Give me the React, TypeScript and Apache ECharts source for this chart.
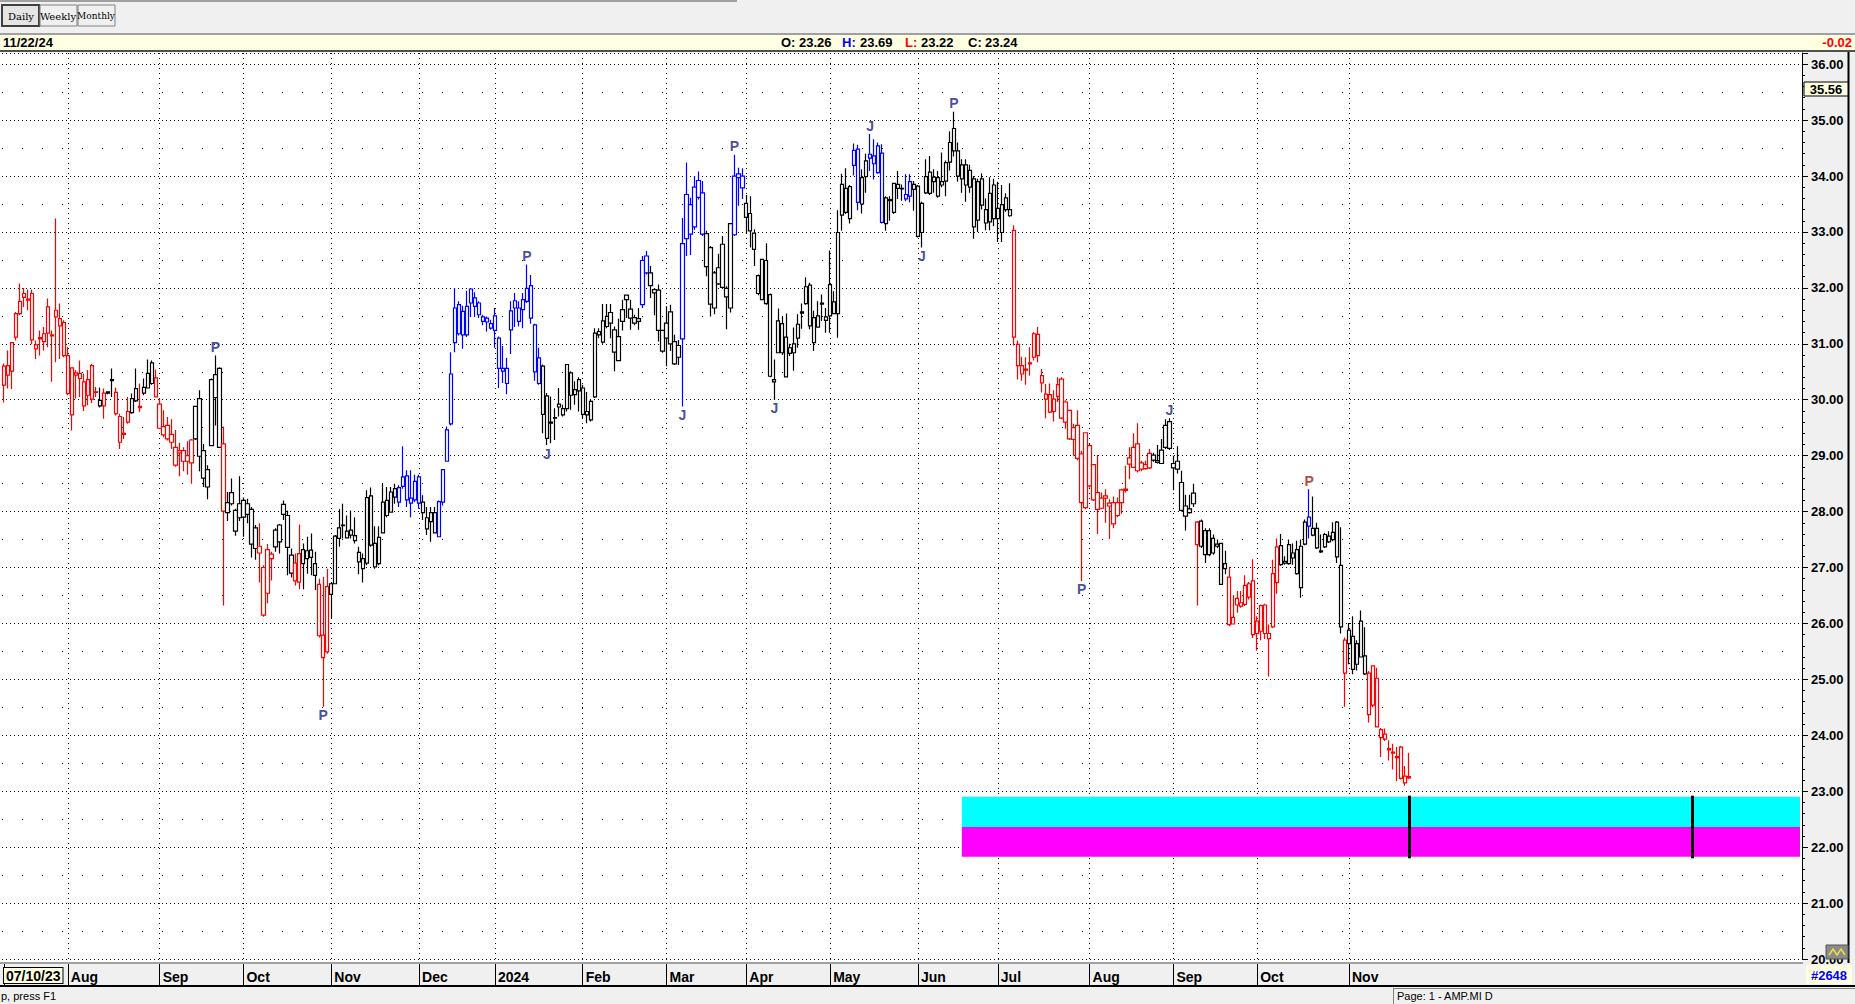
import React, { useEffect, useRef } from 'react';
import * as echarts from 'echarts';

type Bar = [number, number, number, number, 'R' | 'B' | 'K']; // open, high, low, close, trend group

const jul23: Bar[] = [
  [30.26, 30.65, 29.95, 30.60, 'R'], [30.61, 30.88, 30.20, 30.44, 'R'], [30.51, 31.02, 30.19, 31.02, 'R'],
  [31.12, 31.57, 31.06, 31.54, 'R'], [31.54, 32.08, 31.51, 31.76, 'R'], [31.83, 32.00, 31.66, 31.90, 'R'],
  [31.80, 31.97, 31.60, 31.78, 'R'], [31.90, 31.97, 30.99, 31.07, 'R'], [30.91, 31.06, 30.73, 30.98, 'R'],
  [31.09, 31.24, 30.79, 31.11, 'R'], [31.04, 31.30, 30.88, 31.18, 'R'], [31.19, 31.81, 30.94, 31.66, 'R'],
  [31.16, 31.24, 30.32, 31.14, 'R'], [31.48, 33.24, 30.67, 31.60, 'R'], [31.32, 31.72, 30.73, 31.45, 'R'],
  [31.38, 31.42, 30.76, 30.79, 'R'],
];
const aug23: Bar[] = [
  [30.79, 30.94, 30.08, 30.11, 'R'], [29.73, 30.57, 29.45, 30.57, 'R'], [30.44, 30.53, 30.02, 30.48, 'R'],
  [30.47, 30.70, 30.05, 30.38, 'R'], [30.32, 30.47, 29.80, 29.89, 'R'], [30.08, 30.53, 29.90, 30.36, 'R'],
  [30.61, 30.64, 29.94, 30.01, 'R'], [30.13, 30.23, 30.05, 30.14, 'R'], [29.99, 30.22, 29.86, 29.89, 'K'],
  [29.89, 30.20, 29.66, 30.12, 'R'], [30.14, 30.15, 30.10, 30.12, 'K'], [30.34, 30.56, 30.05, 30.36, 'K'],
  [30.13, 30.22, 29.72, 29.75, 'R'], [29.70, 29.75, 29.12, 29.24, 'R'], [29.38, 29.69, 29.30, 29.40, 'R'],
  [29.60, 30.05, 29.57, 29.79, 'R'], [29.77, 30.11, 29.75, 30.02, 'K'], [30.20, 30.56, 29.96, 29.98, 'K'],
  [29.86, 30.29, 29.78, 29.88, 'R'], [30.12, 30.38, 30.08, 30.22, 'K'], [30.21, 30.72, 30.20, 30.47, 'K'],
  [30.66, 30.70, 30.27, 30.29, 'K'], [30.39, 30.54, 30.04, 30.05, 'R'],
];
const sep23: Bar[] = [
  [29.92, 30.02, 29.48, 29.49, 'R'], [29.52, 29.81, 29.33, 29.37, 'R'], [29.30, 29.69, 29.27, 29.54, 'R'],
  [29.38, 29.65, 29.12, 29.24, 'R'], [29.15, 29.46, 28.80, 28.83, 'R'], [29.09, 29.23, 28.63, 29.05, 'R'],
  [29.09, 29.15, 28.72, 28.90, 'R'], [28.90, 29.26, 28.66, 29.00, 'R'], [28.87, 29.30, 28.50, 29.28, 'R'],
  [29.30, 29.89, 29.28, 29.88, 'K'], [30.02, 30.17, 28.72, 28.99, 'K'], [29.09, 29.21, 28.44, 28.60, 'K'],
  [28.44, 28.83, 28.22, 28.75, 'K'], [29.18, 30.38, 29.17, 30.36, 'K'], [30.04, 30.79, 29.54, 30.45, 'K'],
  [30.56, 30.58, 29.14, 29.15, 'K'], [29.21, 29.52, 26.32, 28.01, 'R'], [27.98, 28.35, 27.83, 28.16, 'K'],
  [28.34, 28.59, 28.11, 28.14, 'K'], [28.02, 28.05, 27.57, 27.65, 'K'], [27.89, 28.63, 27.83, 28.14, 'K'],
];
const oct23: Bar[] = [
  [28.20, 28.25, 27.55, 27.90, 'K'], [27.95, 28.23, 27.79, 28.14, 'K'], [28.04, 28.08, 27.18, 27.42, 'K'],
  [27.71, 27.76, 27.14, 27.34, 'K'], [27.38, 27.79, 26.73, 27.26, 'R'], [27.00, 27.04, 26.12, 26.15, 'R'],
  [26.54, 27.42, 26.36, 27.32, 'R'], [27.24, 27.28, 26.77, 27.16, 'R'], [27.37, 27.70, 27.28, 27.67, 'K'],
  [27.46, 27.78, 27.25, 27.76, 'K'], [27.95, 28.20, 27.85, 28.13, 'K'], [27.93, 28.02, 26.86, 27.36, 'K'],
  [27.22, 27.34, 26.82, 26.90, 'K'], [26.76, 27.25, 26.68, 27.08, 'R'], [26.74, 27.77, 26.61, 27.25, 'R'],
  [27.32, 27.43, 26.61, 27.07, 'K'], [27.16, 27.55, 26.89, 27.30, 'K'], [27.18, 27.61, 26.86, 27.31, 'K'],
  [27.07, 27.28, 26.60, 26.86, 'K'], [26.70, 26.80, 25.75, 25.78, 'R'], [25.79, 26.83, 24.51, 25.39, 'R'],
  [25.49, 26.98, 25.46, 26.66, 'R'],
];
const nov23: Bar[] = [
  [26.71, 26.74, 26.09, 26.52, 'K'], [26.71, 27.58, 26.70, 27.56, 'K'], [27.52, 28.04, 27.37, 27.71, 'K'],
  [27.76, 28.14, 27.52, 27.75, 'K'], [27.53, 27.93, 27.52, 27.65, 'K'], [27.67, 28.02, 27.52, 27.58, 'K'],
  [27.48, 27.90, 27.43, 27.57, 'K'], [27.27, 27.37, 26.88, 27.10, 'K'], [27.16, 27.25, 26.73, 26.98, 'K'],
  [27.08, 28.38, 27.04, 28.25, 'K'], [28.28, 28.43, 27.37, 27.40, 'K'], [27.43, 27.74, 26.98, 27.01, 'K'],
  [27.07, 27.74, 27.04, 27.54, 'K'], [27.62, 28.50, 27.61, 28.17, 'K'], [28.20, 28.44, 27.90, 27.93, 'K'],
  [27.99, 28.44, 27.98, 28.35, 'K'], [28.41, 28.50, 28.14, 28.26, 'K'], [28.17, 28.47, 28.08, 28.43, 'B'],
  [28.45, 29.17, 28.41, 28.62, 'B'], [28.64, 28.74, 28.08, 28.21, 'B'], [28.15, 28.74, 27.90, 28.24, 'B'],
  [28.21, 28.66, 28.17, 28.54, 'B'],
];
const dec23: Bar[] = [
  [28.62, 28.66, 28.05, 28.15, 'B'], [28.17, 28.29, 27.85, 27.98, 'K'], [27.89, 28.08, 27.58, 27.69, 'K'],
  [27.82, 28.08, 27.46, 27.98, 'K'], [27.98, 28.08, 27.61, 27.62, 'K'], [27.55, 28.20, 27.54, 28.18, 'B'],
  [28.17, 28.76, 28.11, 28.75, 'B'], [28.90, 29.52, 28.89, 29.46, 'B'], [29.57, 30.85, 29.54, 30.46, 'B'],
  [31.02, 32.00, 30.85, 31.64, 'B'], [31.18, 31.76, 31.15, 31.70, 'B'], [31.58, 31.68, 30.91, 31.16, 'B'],
  [31.16, 31.95, 31.12, 31.67, 'B'], [31.73, 32.00, 31.48, 31.98, 'B'], [31.67, 31.92, 31.48, 31.82, 'B'],
  [31.73, 31.76, 31.46, 31.52, 'B'], [31.48, 31.52, 31.33, 31.40, 'B'], [31.46, 31.49, 31.22, 31.39, 'B'],
  [31.28, 31.43, 31.25, 31.36, 'B'],
];
const jan24: Bar[] = [
  [31.50, 31.64, 30.93, 31.24, 'B'], [31.10, 31.13, 30.21, 30.56, 'B'], [30.56, 30.96, 30.30, 30.51, 'B'],
  [30.29, 30.75, 30.10, 30.56, 'B'], [31.25, 31.76, 30.82, 31.59, 'B'], [31.77, 31.91, 31.30, 31.64, 'B'],
  [31.64, 31.76, 31.31, 31.40, 'B'], [31.79, 31.91, 31.28, 31.61, 'B'], [31.76, 32.42, 31.73, 31.99, 'B'],
  [32.04, 32.23, 31.36, 31.46, 'B'], [31.34, 31.36, 30.34, 30.50, 'B'], [30.29, 30.93, 30.27, 30.75, 'B'],
  [30.60, 30.63, 29.40, 29.74, 'K'], [30.07, 30.12, 29.19, 29.31, 'K'], [29.60, 30.06, 29.22, 29.58, 'K'],
  [29.67, 29.85, 29.28, 29.68, 'K'], [29.92, 30.21, 29.70, 29.87, 'K'], [29.73, 29.91, 29.70, 29.84, 'K'],
  [29.84, 30.64, 29.79, 30.63, 'K'], [30.48, 30.51, 29.82, 30.08, 'K'], [30.18, 30.33, 29.91, 30.09, 'K'],
  [30.16, 30.40, 29.79, 30.36, 'K'],
];
const feb24: Bar[] = [
  [30.21, 30.27, 29.67, 29.74, 'K'], [29.79, 30.14, 29.58, 29.73, 'K'], [29.64, 30.00, 29.61, 29.97, 'K'],
  [30.05, 31.28, 30.03, 31.19, 'K'], [31.16, 31.28, 31.10, 31.22, 'K'], [31.03, 31.71, 31.00, 31.41, 'K'],
  [31.31, 31.71, 31.28, 31.49, 'K'], [31.56, 31.71, 31.10, 31.37, 'K'], [31.25, 31.31, 30.51, 30.85, 'K'],
  [30.70, 31.45, 30.69, 31.13, 'K'], [31.40, 31.79, 31.24, 31.61, 'K'], [31.79, 31.88, 31.46, 31.87, 'K'],
  [31.62, 31.79, 31.25, 31.46, 'K'], [31.37, 31.52, 31.33, 31.47, 'K'], [31.40, 31.64, 31.25, 31.45, 'K'],
  [31.70, 32.57, 31.64, 32.49, 'B'], [32.57, 32.66, 32.24, 32.27, 'B'], [32.27, 32.39, 31.82, 32.04, 'K'],
  [31.97, 32.00, 31.51, 31.91, 'K'], [31.96, 32.06, 31.04, 31.24, 'K'], [31.24, 31.25, 30.84, 30.87, 'K'],
];
const mar24: Bar[] = [
  [31.10, 31.67, 30.60, 31.37, 'K'], [31.57, 31.70, 30.87, 31.00, 'K'], [31.04, 31.16, 30.62, 30.64, 'K'],
  [30.76, 31.07, 30.62, 30.97, 'K'], [31.09, 33.25, 29.88, 32.79, 'B'], [32.88, 34.24, 32.57, 33.67, 'B'],
  [33.49, 33.61, 32.59, 32.96, 'B'], [33.09, 34.00, 33.04, 33.80, 'B'], [33.92, 34.08, 33.58, 33.62, 'B'],
  [33.70, 33.91, 32.93, 32.96, 'B'], [32.97, 33.02, 32.21, 32.38, 'K'], [32.72, 32.75, 31.49, 31.71, 'K'],
  [31.64, 32.30, 31.53, 32.27, 'K'], [32.07, 32.61, 32.05, 32.36, 'K'], [32.78, 32.93, 32.00, 32.01, 'K'],
  [31.99, 32.03, 31.26, 31.84, 'K'], [31.64, 33.16, 31.56, 33.15, 'K'], [32.95, 34.38, 32.93, 34.00, 'B'],
  [33.97, 34.15, 33.47, 34.04, 'B'], [34.00, 34.14, 33.59, 33.79, 'B'],
];
const apr24: Bar[] = [
  [33.51, 33.66, 32.97, 33.26, 'K'], [33.33, 33.64, 32.72, 33.02, 'K'], [32.98, 33.05, 32.39, 32.69, 'K'],
  [32.22, 32.24, 31.87, 31.90, 'K'], [31.79, 32.52, 31.78, 32.51, 'K'], [32.49, 32.80, 31.70, 31.72, 'K'],
  [31.88, 31.90, 30.40, 30.42, 'K'], [30.32, 30.72, 30.00, 30.36, 'K'], [30.84, 31.63, 30.83, 31.41, 'K'],
  [31.36, 31.48, 30.80, 30.84, 'K'], [30.41, 31.54, 30.40, 31.12, 'K'], [30.93, 31.00, 30.78, 30.83, 'K'],
  [30.84, 31.29, 30.52, 31.00, 'K'], [31.10, 31.53, 30.93, 31.35, 'K'], [31.55, 31.72, 31.27, 31.57, 'K'],
  [31.72, 32.19, 31.70, 32.02, 'K'], [32.05, 32.09, 31.26, 31.32, 'K'], [31.47, 31.59, 30.87, 31.02, 'K'],
  [31.30, 31.76, 31.29, 31.50, 'K'], [31.73, 31.88, 31.41, 31.71, 'K'], [31.48, 31.64, 31.20, 31.42, 'K'],
];
const may24: Bar[] = [
  [32.06, 32.67, 31.20, 31.50, 'K'], [31.75, 31.94, 31.53, 31.54, 'K'], [31.54, 33.39, 31.11, 32.99, 'K'],
  [33.30, 34.04, 33.02, 33.85, 'K'], [33.78, 34.14, 33.32, 33.35, 'K'], [33.24, 33.84, 33.15, 33.81, 'K'],
  [34.19, 34.58, 34.01, 34.46, 'B'], [34.48, 34.56, 33.39, 33.53, 'B'], [33.50, 34.12, 33.33, 33.97, 'K'],
  [33.99, 34.40, 33.70, 34.27, 'K'], [34.32, 34.75, 34.09, 34.39, 'B'], [34.22, 34.66, 33.94, 34.36, 'B'],
  [34.06, 34.60, 34.04, 34.54, 'B'], [34.41, 34.57, 33.15, 33.17, 'B'], [33.15, 33.64, 33.02, 33.61, 'K'],
  [33.56, 33.64, 33.20, 33.58, 'K'], [33.35, 33.88, 33.32, 33.87, 'K'], [33.85, 34.09, 33.59, 33.78, 'K'],
  [33.78, 33.85, 33.56, 33.77, 'K'], [33.59, 34.03, 33.55, 33.67, 'B'], [33.64, 34.03, 33.53, 33.90, 'B'],
  [33.76, 33.91, 33.38, 33.85, 'K'],
];
const jun24: Bar[] = [
  [33.82, 33.84, 32.90, 32.92, 'K'], [32.99, 33.54, 32.72, 33.51, 'K'], [33.70, 34.30, 33.68, 33.99, 'K'],
  [34.07, 34.36, 33.66, 33.69, 'K'], [33.90, 34.12, 33.70, 33.98, 'K'], [33.97, 34.09, 33.61, 33.64, 'K'],
  [33.90, 34.42, 33.80, 33.84, 'K'], [33.91, 34.28, 33.64, 34.24, 'K'], [34.25, 34.80, 34.10, 34.60, 'K'],
  [34.85, 35.15, 34.35, 34.45, 'K'], [34.45, 34.60, 33.90, 34.00, 'K'], [33.95, 34.30, 33.70, 34.20, 'K'],
  [34.20, 34.30, 33.54, 33.84, 'K'], [34.10, 34.20, 33.70, 33.80, 'K'], [33.95, 34.00, 32.88, 33.09, 'K'],
  [33.21, 33.95, 33.00, 33.90, 'K'], [33.95, 34.05, 33.40, 33.48, 'K'], [33.40, 33.60, 33.03, 33.16, 'K'],
  [33.18, 33.98, 33.03, 33.69, 'K'], [33.84, 33.95, 33.10, 33.24, 'K'],
];
const jul24: Bar[] = [
  [33.42, 33.90, 32.82, 33.24, 'K'], [32.99, 33.84, 32.82, 33.49, 'K'], [33.61, 33.69, 33.36, 33.40, 'K'],
  [33.40, 33.87, 33.27, 33.29, 'K'], [33.03, 33.12, 30.97, 31.12, 'R'], [30.99, 31.06, 30.36, 30.61, 'R'],
  [30.61, 30.77, 30.34, 30.46, 'R'], [30.55, 30.76, 30.27, 30.53, 'R'], [30.64, 30.94, 30.43, 30.66, 'R'],
  [30.76, 31.21, 30.70, 31.18, 'R'], [31.17, 31.30, 30.67, 30.79, 'R'], [30.30, 30.55, 30.13, 30.43, 'R'],
  [30.10, 30.28, 29.67, 30.01, 'R'], [30.09, 30.29, 29.76, 29.78, 'R'], [29.79, 30.17, 29.61, 30.01, 'R'],
  [30.06, 30.40, 29.96, 30.27, 'R'], [30.37, 30.40, 29.65, 29.67, 'R'], [29.60, 29.99, 29.48, 29.96, 'R'],
  [29.81, 29.82, 29.28, 29.30, 'R'], [29.29, 29.57, 29.00, 29.50, 'R'], [29.54, 29.81, 28.92, 28.95, 'R'],
  [29.03, 29.09, 26.76, 28.16, 'R'], [28.07, 29.42, 28.04, 29.41, 'R'],
];
const aug24: Bar[] = [
  [29.18, 29.21, 28.43, 28.46, 'R'], [28.21, 28.85, 28.19, 28.84, 'R'], [28.34, 29.01, 27.60, 28.04, 'R'],
  [28.06, 28.34, 28.04, 28.24, 'R'], [28.24, 28.40, 27.80, 28.28, 'R'], [28.10, 28.22, 27.51, 28.15, 'R'],
  [28.16, 28.27, 27.70, 27.78, 'R'], [27.93, 28.25, 27.90, 28.16, 'R'], [28.16, 28.41, 27.96, 28.39, 'R'],
  [28.38, 28.82, 28.34, 28.40, 'R'], [28.96, 29.15, 28.58, 28.85, 'R'], [28.79, 29.40, 28.78, 29.15, 'R'],
  [29.21, 29.58, 28.70, 28.73, 'R'], [28.87, 28.91, 28.72, 28.76, 'R'], [28.84, 28.91, 28.75, 28.77, 'R'],
  [28.78, 29.12, 28.76, 29.04, 'R'], [29.01, 29.05, 28.89, 28.92, 'K'], [28.88, 29.19, 28.86, 28.91, 'K'],
  [28.86, 29.30, 28.85, 29.10, 'K'], [29.15, 29.65, 29.12, 29.54, 'K'], [29.61, 29.67, 29.10, 29.13, 'K'],
];
const sep24: Bar[] = [
  [28.78, 29.00, 28.38, 28.86, 'K'], [28.76, 29.17, 28.68, 28.90, 'K'], [28.52, 28.73, 28.00, 28.02, 'K'],
  [27.92, 28.30, 27.66, 28.10, 'K'], [28.05, 28.30, 27.96, 27.98, 'K'], [28.14, 28.50, 28.08, 28.33, 'K'],
  [27.41, 27.83, 26.32, 27.81, 'R'], [27.83, 27.86, 27.35, 27.38, 'K'], [27.66, 27.70, 27.08, 27.23, 'K'],
  [27.23, 27.70, 27.20, 27.66, 'K'], [27.52, 27.59, 27.23, 27.26, 'K'], [27.42, 27.50, 27.35, 27.38, 'K'],
  [27.43, 27.44, 26.69, 26.70, 'K'], [27.07, 27.30, 26.88, 26.98, 'K'], [26.83, 27.01, 25.95, 25.98, 'R'],
  [25.99, 26.51, 25.98, 26.11, 'R'], [26.33, 26.58, 26.19, 26.45, 'R'], [26.31, 26.58, 26.28, 26.37, 'R'],
  [26.68, 26.86, 26.31, 26.34, 'R'], [26.47, 26.74, 26.43, 26.71, 'R'], [26.76, 27.15, 25.74, 25.80, 'R'],
];
const oct24: Bar[] = [
  [26.04, 26.13, 25.51, 25.82, 'R'], [25.86, 26.34, 25.70, 26.32, 'R'], [26.33, 26.35, 25.72, 25.82, 'R'],
  [25.82, 25.98, 25.05, 25.73, 'R'], [25.94, 27.14, 25.92, 26.89, 'R'], [26.73, 27.52, 26.53, 27.37, 'R'],
  [27.39, 27.60, 27.03, 27.05, 'K'], [27.08, 27.20, 27.05, 27.11, 'K'], [27.07, 27.50, 27.05, 27.41, 'K'],
  [27.26, 27.43, 27.05, 27.17, 'K'], [27.32, 27.48, 26.87, 26.89, 'K'], [26.64, 27.50, 26.46, 27.38, 'K'],
  [27.42, 27.86, 27.40, 27.81, 'K'], [27.90, 28.40, 27.52, 27.74, 'B'], [27.70, 28.27, 27.56, 27.58, 'K'],
  [27.70, 27.80, 27.33, 27.35, 'K'], [27.28, 27.59, 27.26, 27.30, 'K'], [27.37, 27.62, 27.35, 27.59, 'K'],
  [27.56, 27.65, 27.44, 27.46, 'K'], [27.50, 27.81, 27.47, 27.63, 'K'], [27.81, 27.83, 27.08, 27.19, 'K'],
  [27.04, 27.72, 25.82, 25.94, 'K'], [25.11, 25.75, 24.51, 25.70, 'R'],
];
const nov24: Bar[] = [
  [25.64, 26.01, 25.27, 25.88, 'K'], [25.77, 26.13, 25.09, 25.18, 'K'], [25.27, 25.70, 25.16, 25.64, 'K'],
  [26.04, 26.23, 25.40, 25.40, 'K'], [25.42, 25.93, 25.08, 25.10, 'K'], [25.11, 25.15, 24.23, 24.37, 'R'],
  [24.54, 25.24, 24.50, 25.24, 'R'], [25.02, 25.21, 24.15, 24.15, 'R'], [24.10, 24.13, 23.61, 23.96, 'R'],
  [23.93, 24.12, 23.90, 24.02, 'R'], [23.74, 23.91, 23.55, 23.76, 'R'], [23.68, 23.85, 23.39, 23.70, 'R'],
  [23.60, 23.79, 23.18, 23.62, 'R'], [23.79, 23.81, 23.21, 23.23, 'R'], [23.15, 23.45, 23.10, 23.27, 'R'],
  [23.26, 23.69, 23.22, 23.24, 'R'],
];

const monthKeys = ['jul23', 'aug23', 'sep23', 'oct23', 'nov23', 'dec23', 'jan24', 'feb24', 'mar24', 'apr24', 'may24', 'jun24', 'jul24', 'aug24', 'sep24', 'oct24', 'nov24'];
const monthLabels = ['07/10/23', 'Aug', 'Sep', 'Oct', 'Nov', 'Dec', '2024', 'Feb', 'Mar', 'Apr', 'May', 'Jun', 'Jul', 'Aug', 'Sep', 'Oct', 'Nov'];
const monthBars = [jul23, aug23, sep23, oct23, nov23, dec23, jan24, feb24, mar24, apr24, may24, jun24, jul24, aug24, sep24, oct24, nov24];
const futureSlots = 98;

// [month, day-in-month, text, side, tone]
const markers: [string, number, string, 'top' | 'bottom', 'n' | 'r'][] = [
  ['sep23', 14, 'P', 'top', 'n'], ['oct23', 20, 'P', 'bottom', 'n'], ['jan24', 8, 'P', 'top', 'n'],
  ['jan24', 13, 'J', 'bottom', 'n'], ['mar24', 4, 'J', 'bottom', 'n'], ['mar24', 17, 'P', 'top', 'n'],
  ['apr24', 7, 'J', 'bottom', 'n'], ['may24', 10, 'J', 'top', 'n'], ['jun24', 1, 'J', 'bottom', 'n'],
  ['jun24', 9, 'P', 'top', 'n'], ['jul24', 21, 'P', 'bottom', 'n'], ['aug24', 20, 'J', 'top', 'n'],
  ['oct24', 13, 'P', 'top', 'r'],
];

// target zone (price bands) and its markers
const zoneStartMonth = 'jun24';
const zoneStartDay = 12;
const zoneTop = 22.9;
const zoneMid = 22.36;
const zoneBottom = 21.83;
const zoneLineOffsets = [0, 71]; // slots after last bar
const zoneLineTop = 22.92;
const zoneLineBottom = 21.8;

const header = { date: '11/22/24', o: '23.26', h: '23.69', l: '23.22', c: '23.24', chg: '-0.02', cursor: '35.56' };

const FONT = '"Liberation Sans", Arial, sans-serif';
const NARROW = '"Liberation Sans Narrow", "Liberation Sans", Arial, sans-serif';
const COLORS: Record<string, string> = { R: '#ff0000', B: '#0000ff', K: '#000000' };

function buildOption() {
  const allBars: Bar[] = [];
  const starts: Record<string, number> = {};
  const labelAt = new Map<number, string>();
  monthBars.forEach((bars, i) => {
    starts[monthKeys[i]] = allBars.length;
    labelAt.set(allBars.length, monthLabels[i]);
    allBars.push(...bars);
  });
  const total = allBars.length + futureSlots;
  const categories = Array.from({ length: total }, (_, i) => String(i));
  const isStart = (idx: number) => labelAt.has(idx);

  const candleData = allBars.map(([o, h, l, c, g]) => {
    const col = COLORS[g];
    return {
      value: [o, c, l, h],
      itemStyle: { color: '#ffffff', color0: col, borderColor: col, borderColor0: col, borderColorDoji: col },
    };
  });

  const markData = markers.map(([m, d, t, side, tone]) => {
    const idx = starts[m] + d;
    const b = allBars[idx];
    const price = side === 'top' ? b[1] : b[2];
    return {
      value: [idx, price],
      label: {
        show: true, formatter: t, position: side, distance: 1,
        color: tone === 'r' ? '#a01818' : '#1c1c86', fontWeight: 'bold', fontSize: 14, fontFamily: FONT,
      },
    };
  });

  const lastIdx = allBars.length - 1;
  const zoneStart = starts[zoneStartMonth] + zoneStartDay - 1;
  const zoneEnd = total - 1;

  const txt = (x: number, y: number, text: string, font: string, fill = '#000', align = 'left') => ({
    type: 'text', x, y, z: 10,
    style: { text, font, fill, textAlign: align, align, textVerticalAlign: 'middle', verticalAlign: 'middle' },
  });

  return {
    animation: false,
    backgroundColor: 'transparent',
    grid: { left: -2, right: 53, top: 53, bottom: 45, containLabel: false },
    xAxis: {
      type: 'category', data: categories, boundaryGap: true, offset: 5,
      axisLine: { show: false },
      axisTick: { show: true, interval: (i: number) => isStart(i), alignWithLabel: true, length: 21, lineStyle: { color: '#000', width: 1 } },
      axisLabel: {
        show: true, interval: (i: number) => isStart(i), align: 'left', margin: 4,
        formatter: (v: string) => {
          const lab = labelAt.get(Number(v)) || '';
          return Number(v) === 0 ? `{f|${lab}}` : `{m|${lab}}`;
        },
        rich: {
          f: { fontFamily: NARROW, fontWeight: 'bold', fontSize: 14, color: '#000', backgroundColor: '#ffffe1', borderColor: '#000', borderWidth: 1, padding: [1, 2, 0, 2] },
          m: { fontFamily: NARROW, fontWeight: 'bold', fontSize: 14, color: '#000', padding: [2, 0, 0, 3] },
        },
      },
      splitLine: { show: true, interval: (i: number) => i > 0 && isStart(i), alignWithLabel: true, lineStyle: { color: '#000', type: [1, 4], width: 1 } },
    },
    yAxis: [
      {
        type: 'value', position: 'right', min: 20, max: 36.2, interval: 1, scale: true,
        axisLine: { show: true, lineStyle: { color: '#000', width: 1 } },
        axisTick: { show: true, length: 6, lineStyle: { color: '#000' } },
        minorTick: { show: true, splitNumber: 5, length: 3, lineStyle: { color: '#000' } },
        axisLabel: {
          margin: 9, color: '#000', fontWeight: 'bold', fontSize: 13, fontFamily: FONT,
          formatter: (v: number) => (Math.abs(v - Math.round(v)) < 1e-6 ? v.toFixed(2) : ''),
        },
        splitLine: { show: true, lineStyle: { color: '#000', type: [1, 3], width: 1 } },
      },
      {
        type: 'value', position: 'right', min: 20, max: 36.2, interval: 0.5,
        axisLine: { show: false }, axisTick: { show: false }, axisLabel: { show: false },
        splitLine: { show: true, lineStyle: { color: '#000', type: [1, 19], width: 1 } },
      },
    ],
    series: [
      {
        type: 'candlestick', data: candleData, barWidth: 3.8, yAxisIndex: 0,
        itemStyle: { borderWidth: 1.2 },
        markArea: {
          silent: true,
          data: [
            [{ xAxis: zoneStart, yAxis: zoneTop, itemStyle: { color: '#00ffff', opacity: 1 } }, { xAxis: zoneEnd, yAxis: zoneMid }],
            [{ xAxis: zoneStart, yAxis: zoneMid, itemStyle: { color: '#ff00ff', opacity: 1 } }, { xAxis: zoneEnd, yAxis: zoneBottom }],
          ],
        },
        markLine: {
          silent: true, symbol: ['none', 'none'], label: { show: false },
          lineStyle: { color: '#000', width: 3, type: 'solid' },
          data: zoneLineOffsets.map((off) => [
            { coord: [lastIdx + off, zoneLineTop] },
            { coord: [lastIdx + off, zoneLineBottom] },
          ]),
        },
      },
      {
        type: 'scatter', data: markData, symbolSize: 1, yAxisIndex: 0,
        itemStyle: { color: 'rgba(0,0,0,0)' }, z: 5,
      },
    ],
    graphic: [
      // toolbar buttons
      { type: 'rect', z: 10, shape: { x: 2, y: 5, width: 37, height: 21 }, style: { fill: '#e4e4e4', stroke: '#404040', lineWidth: 2 } },
      { type: 'rect', z: 10, shape: { x: 40, y: 5, width: 37, height: 21 }, style: { fill: '#f0f0f0', stroke: '#808080', lineWidth: 1 } },
      { type: 'rect', z: 10, shape: { x: 78, y: 5, width: 37, height: 21 }, style: { fill: '#f0f0f0', stroke: '#808080', lineWidth: 1 } },
      txt(21, 16, 'Daily', '10px "DejaVu Serif", serif', '#000', 'center'),
      txt(58, 16, 'Weekly', '10px "DejaVu Serif", serif', '#000', 'center'),
      txt(96, 16, 'Monthly', '9px "DejaVu Serif", serif', '#000', 'center'),
      // header
      txt(3, 42, header.date, `bold 13px ${NARROW}`),
      txt(781, 42, 'O:', `bold 13px ${NARROW}`, '#000'),
      txt(799, 42, header.o, `bold 13px ${NARROW}`, '#000'),
      txt(842, 42, 'H:', `bold 13px ${NARROW}`, '#0000ff'),
      txt(860, 42, header.h, `bold 13px ${NARROW}`, '#000'),
      txt(905, 42, 'L:', `bold 13px ${NARROW}`, '#ff0000'),
      txt(921, 42, header.l, `bold 13px ${NARROW}`, '#000'),
      txt(968, 42, 'C:', `bold 13px ${NARROW}`, '#000'),
      txt(985, 42, header.c, `bold 13px ${NARROW}`, '#000'),
      txt(1852, 42, header.chg, `bold 13px ${NARROW}`, '#ff0000', 'right'),
      // right axis decorations
      { type: 'line', z: 10, shape: { x1: 1848.5, y1: 52, x2: 1848.5, y2: 963 }, style: { stroke: '#000', lineWidth: 2 } },
      { type: 'rect', z: 10, shape: { x: 1804, y: 82, width: 44, height: 14 }, style: { fill: '#ffffe1', stroke: '#000', lineWidth: 1 } },
      txt(1826, 89, header.cursor, `bold 13px ${FONT}`, '#000', 'center'),
      { type: 'rect', z: 10, shape: { x: 1826, y: 945, width: 22, height: 14 }, style: { fill: '#8a8a8a', stroke: '#555', lineWidth: 1 } },
      { type: 'polyline', z: 11, shape: { points: [[1829, 955], [1833, 949], [1837, 955], [1841, 949], [1845, 955]] }, style: { stroke: '#f0e040', lineWidth: 1.5, fill: 'none' } },
      // bottom right ID
      txt(1829, 975, '#2648', `bold 13px ${FONT}`, '#0000ff', 'center'),
      // status bar
      txt(1, 996, 'p, press F1', `11px ${FONT}`),
      txt(1397, 996, 'Page: 1 - AMP.MI D', `11px ${FONT}`),
    ],
  };
}

export default function App() {
  const ref = useRef<HTMLDivElement>(null);
  useEffect(() => {
    if (!ref.current) return;
    const chart = echarts.init(ref.current, null, { renderer: 'svg' });
    chart.setOption(buildOption() as any);
    return () => chart.dispose();
  }, []);
  const abs = (s: React.CSSProperties): React.CSSProperties => ({ position: 'absolute', boxSizing: 'border-box', ...s });
  return (
    <div style={{ position: 'fixed', left: 0, top: 0, width: 1855, height: 1004, background: '#ffffff', overflow: 'hidden' }}>
      <div style={abs({ left: 0, top: 0, width: 1855, height: 33, background: '#f0f0f0' })} />
      <div style={abs({ left: 0, top: 0, width: 737, height: 2, background: '#a0a0a0' })} />
      <div style={abs({ left: 0, top: 33, width: 1855, height: 19, background: '#ffffe1', borderTop: '2px solid #a0a0a0', borderBottom: '2px solid #505050' })} />
      <div style={abs({ left: 1803, top: 52, width: 52, height: 912, background: '#f0f0f0' })} />
      <div style={abs({ left: 0, top: 962, width: 1803, height: 25, background: '#f0f0f0', borderTop: '2px solid #a0a0a0', borderBottom: '2px solid #000' })} />
      <div style={abs({ left: 1803, top: 962, width: 52, height: 25, background: '#f0f0f0', borderBottom: '2px solid #000' })} />
      <div style={abs({ left: 1806, top: 965, width: 46, height: 19, background: '#ffffe1' })} />
      <div style={abs({ left: 0, top: 987, width: 1855, height: 17, background: '#f0f0f0' })} />
      <div style={abs({ left: 1393, top: 988, width: 462, height: 16, borderLeft: '1px solid #808080', borderTop: '1px solid #808080' })} />
      <div ref={ref} style={abs({ left: 0, top: 0, width: 1855, height: 1004 })} />
    </div>
  );
}
